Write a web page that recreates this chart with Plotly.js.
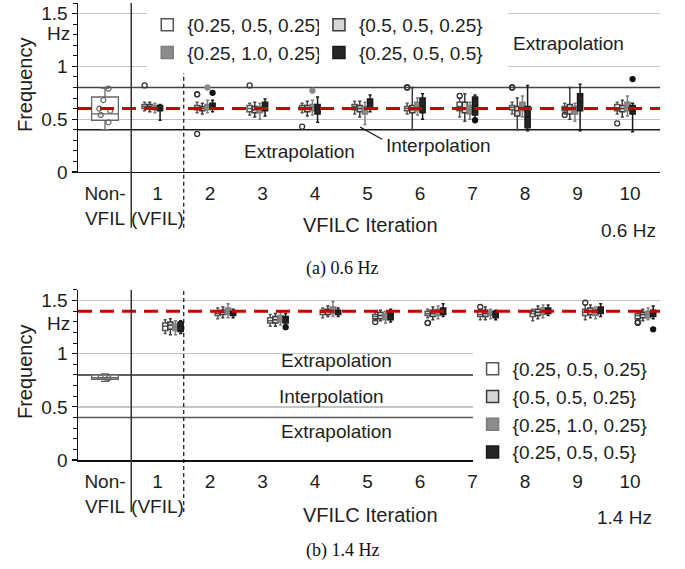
<!DOCTYPE html>
<html><head><meta charset="utf-8">
<script src="https://cdn.plot.ly/plotly-3.0.1.min.js"></script>
<style>body{margin:0;background:#fff}#chart{width:685px;height:569px}</style>
</head><body><div id="chart"></div>
<script>
// ---------- data ----------
const categories = ['Non-<br>VFIL','1<br>(VFIL)','2','3','4','5','6','7','8','9','10'];
const catPos = [0,1,2,3,4,5,6,7,8,9,10];
const iterations = [1,2,3,4,5,6,7,8,9,10];
const seriesNames = ['{0.25, 0.5, 0.25}','{0.5, 0.5, 0.25}','{0.25, 1.0, 0.25}','{0.25, 0.5, 0.5}'];
const targetTop = 0.6;
const targetBot = 1.4;
const interpBounds = [0.4, 0.8];

// Non-VFIL (lo, q1, med, q3, hi) and sample points
const nonTopStats = [0.40, 0.49, 0.55, 0.71, 0.795];
const nonTopPts = [0.79, 0.68, 0.60, 0.58, 0.54, 0.47];
const nonBotStats = [0.74, 0.76, 0.775, 0.80, 0.81];
const nonBotPts = [0.78, 0.77];

// (a) 0.6 Hz : rows = series, columns = iterations 1..10
const top_q1 = [
 [0.60,0.59,0.57,0.59,0.59,0.58,0.58,0.59,0.58,0.58],
 [0.60,0.58,0.56,0.57,0.57,0.56,0.56,0.53,0.55,0.57],
 [0.59,0.59,0.56,0.58,0.55,0.58,0.55,0.58,0.55,0.58],
 [0.58,0.60,0.58,0.55,0.61,0.56,0.54,0.42,0.58,0.55]];
const top_med = [
 [0.62,0.61,0.60,0.61,0.62,0.60,0.62,0.61,0.60,0.60],
 [0.62,0.60,0.59,0.60,0.60,0.59,0.60,0.58,0.59,0.60],
 [0.61,0.62,0.59,0.61,0.59,0.62,0.59,0.62,0.58,0.62],
 [0.60,0.63,0.62,0.60,0.65,0.62,0.63,0.52,0.66,0.58]];
const top_q3 = [
 [0.64,0.63,0.63,0.63,0.64,0.62,0.66,0.63,0.62,0.64],
 [0.64,0.62,0.62,0.63,0.63,0.63,0.66,0.62,0.64,0.63],
 [0.63,0.64,0.62,0.64,0.62,0.66,0.63,0.66,0.62,0.66],
 [0.63,0.65,0.66,0.64,0.69,0.70,0.71,0.62,0.74,0.63]];
const top_lo = [
 [0.58,0.56,0.54,0.56,0.55,0.55,0.52,0.55,0.55,0.55],
 [0.57,0.55,0.52,0.53,0.52,0.40,0.48,0.40,0.50,0.52],
 [0.56,0.56,0.50,0.54,0.45,0.54,0.50,0.52,0.48,0.53],
 [0.49,0.57,0.53,0.47,0.57,0.50,0.50,0.39,0.39,0.38]];
const top_hi = [
 [0.66,0.66,0.65,0.65,0.67,0.65,0.70,0.66,0.65,0.66],
 [0.66,0.65,0.66,0.67,0.67,0.80,0.74,0.70,0.80,0.68],
 [0.65,0.68,0.65,0.68,0.66,0.70,0.66,0.72,0.65,0.72],
 [0.64,0.68,0.69,0.71,0.73,0.74,0.73,0.82,0.83,0.65]];
const top_out = [
 [[0.82],[0.735,0.735,0.36],[0.82],[0.43],[],[0.80,0.80],[0.72],[0.80,0.80],[0.54],[0.46]],
 [[],[],[],[],[],[],[],[],[],[]],
 [[],[0.80],[],[0.77],[],[],[],[],[],[]],
 [[],[0.75],[],[],[],[],[0.49],[],[],[0.88]]];

// (b) 1.4 Hz
const bot_q1 = [
 [1.22,1.36,1.29,1.37,1.33,1.36,1.35,1.35,1.36,1.33],
 [1.23,1.37,1.29,1.37,1.33,1.35,1.35,1.36,1.37,1.34],
 [1.22,1.37,1.30,1.38,1.32,1.36,1.36,1.37,1.36,1.34],
 [1.21,1.36,1.29,1.37,1.32,1.37,1.34,1.38,1.38,1.35]];
const bot_med = [
 [1.26,1.38,1.31,1.39,1.35,1.38,1.37,1.38,1.39,1.36],
 [1.27,1.39,1.32,1.40,1.36,1.38,1.38,1.39,1.40,1.37],
 [1.25,1.40,1.33,1.41,1.35,1.39,1.38,1.40,1.39,1.37],
 [1.26,1.38,1.32,1.39,1.36,1.40,1.37,1.40,1.41,1.38]];
const bot_q3 = [
 [1.29,1.40,1.34,1.41,1.37,1.40,1.40,1.40,1.42,1.38],
 [1.30,1.41,1.35,1.42,1.39,1.41,1.41,1.42,1.43,1.39],
 [1.28,1.43,1.36,1.44,1.38,1.42,1.40,1.43,1.42,1.40],
 [1.30,1.40,1.35,1.41,1.40,1.43,1.40,1.43,1.44,1.41]];
const bot_lo = [
 [1.19,1.33,1.26,1.34,1.31,1.34,1.32,1.31,1.32,1.32],
 [1.18,1.34,1.26,1.35,1.31,1.32,1.32,1.33,1.34,1.31],
 [1.18,1.34,1.27,1.35,1.29,1.33,1.33,1.34,1.33,1.32],
 [1.19,1.34,1.27,1.35,1.30,1.35,1.32,1.36,1.35,1.33]];
const bot_hi = [
 [1.32,1.43,1.37,1.43,1.39,1.42,1.42,1.42,1.46,1.40],
 [1.33,1.44,1.38,1.45,1.41,1.44,1.44,1.45,1.46,1.42],
 [1.31,1.47,1.39,1.49,1.40,1.45,1.42,1.46,1.44,1.43],
 [1.31,1.42,1.38,1.43,1.42,1.47,1.41,1.46,1.47,1.45]];
const bot_out = [
 [[],[],[],[],[1.30],[1.29,1.29],[1.44],[],[1.48],[1.30,1.29]],
 [[],[],[],[],[],[],[],[],[],[]],
 [[],[],[],[],[],[],[],[],[],[]],
 [[],[],[1.25],[],[],[],[],[],[],[1.23]]];

// ---------- styles ----------
const fills = ['#ffffff','#d6d6d6','#8c8c8c','#262626'];
const lines = ['#555555','#3a3a3a','#7d7d7d','#1a1a1a'];
const mSym = ['circle-open','circle-open','circle','circle'];
const mCol = ['#333333','#555555','#8a8a8a','#111111'];
const FONT = 'Liberation Sans, Arial, sans-serif';
const TXT = '#1e1e1e';

function seriesBox(s, q1, med, q3, lo, hi, out, xa, ya, leg, showleg) {
  // sample points: whisker end (a data point) + outliers
  const samples = out[s].map((o, i) => [hi[s][i]].concat(o));
  return {
    type: 'box', name: seriesNames[s], x: iterations,
    q1: q1[s], median: med[s], q3: q3[s], lowerfence: lo[s], upperfence: hi[s],
    y: samples, boxpoints: 'outliers', jitter: 0, pointpos: 0,
    fillcolor: fills[s], line: {color: lines[s], width: 1.5}, whiskerwidth: 0.6,
    marker: {symbol: mSym[s], color: mCol[s], size: 5, line: {width: 1.3, color: mCol[s]}},
    xaxis: xa, yaxis: ya, legend: leg, showlegend: showleg, hoverinfo: 'skip'
  };
}
function nonBox(stats, pts, xa, ya) {
  return {
    type: 'box', x: [0], lowerfence: [stats[0]], q1: [stats[1]], median: [stats[2]],
    q3: [stats[3]], upperfence: [stats[4]], y: [pts], width: 0.51,
    boxpoints: 'all', jitter: 0.5, pointpos: 0,
    fillcolor: '#ffffff', line: {color: '#666666', width: 1.3}, whiskerwidth: 0.3,
    marker: {symbol: 'circle-open', color: '#666666', size: 5, line: {width: 1.2}},
    xaxis: xa, yaxis: ya, showlegend: false, hoverinfo: 'skip'
  };
}

const topLegend = ['legend', 'legend2', 'legend', 'legend2'];
const data = [];
data.push(nonBox(nonTopStats, nonTopPts, 'x3', 'y'));
data.push(nonBox(nonBotStats, nonBotPts, 'x4', 'y2'));
for (let s = 0; s < 4; s++) data.push(seriesBox(s, top_q1, top_med, top_q3, top_lo, top_hi, top_out, 'x', 'y', topLegend[s], true));
for (let s = 0; s < 4; s++) data.push(seriesBox(s, bot_q1, bot_med, bot_q3, bot_lo, bot_hi, bot_out, 'x2', 'y2', 'legend3', true));

const xr = [-0.514, 10.571];
const xbase = {
  range: xr, type: 'linear', tickmode: 'array', tickvals: catPos, ticktext: categories,
  showgrid: false, zeroline: false, showline: true, linecolor: '#111', linewidth: 1.5,
  ticks: '', tickfont: {family: FONT, size: 19, color: TXT}, ticklabelstandoff: 4
};
const ybase = {
  range: [0, 1.6], dtick: 0.5, tick0: 0, showgrid: true, gridcolor: '#c4c4c4', gridwidth: 1.3,
  zeroline: false, showline: true, linecolor: '#111', linewidth: 1.5,
  ticks: 'outside', ticklen: 5, tickcolor: '#111', tickwidth: 1.2,
  minor: {dtick: 0.1, ticks: 'outside', ticklen: 4, tickcolor: '#111', tickwidth: 1, showgrid: false},
  tickfont: {family: FONT, size: 19, color: TXT}
};
const legBase = {bgcolor: '#ffffff', borderwidth: 0, font: {family: FONT, size: 19, color: TXT},
  orientation: 'v', xanchor: 'left', yanchor: 'top', traceorder: 'normal', tracegroupgap: 0, itemclick: false};

function hline(xref, yref, y, color, width, dash, layer) {
  return {type: 'line', xref: xref, yref: yref, x0: 0, x1: 1, y0: y, y1: y,
    line: {color: color, width: width, dash: dash || 'solid'}, layer: layer};
}
function vline(xref, yref, x, y0, y1, color, width, dash) {
  return {type: 'line', xref: xref, yref: yref, x0: x, x1: x, y0: y0, y1: y1,
    line: {color: color, width: width, dash: dash || 'solid'}, layer: 'above'};
}
function whiteBox(x0, x1, y0, y1) {
  return {type: 'rect', xref: 'paper', yref: 'paper', x0: x0, x1: x1, y0: y0, y1: y1,
    fillcolor: '#ffffff', line: {width: 0}, layer: 'above'};
}

const shapes = [
  hline('x domain', 'y', interpBounds[1], '#444', 1.5, null, 'below'),
  hline('x domain', 'y', interpBounds[0], '#1a1a1a', 1.5, null, 'below'),
  hline('x2 domain', 'y2', interpBounds[1], '#2a2a2a', 1.5, null, 'below'),
  hline('x2 domain', 'y2', interpBounds[0], '#555', 1.5, null, 'below'),
  // legend backdrops (area behind the legends)
  whiteBox(0.146, 0.739, 0.855, 0.997),
  whiteBox(0.699, 1.0, -0.022, 0.2516),
  hline('x domain', 'y', targetTop, '#cc0000', 3, '14px,8px', 'above'),
  hline('x2 domain', 'y2', targetBot, '#cc0000', 3, '14px,8px', 'above'),
  vline('x', 'y domain', 0.5, -0.33, 1, '#333', 1.5),
  vline('x', 'y domain', 1.5, -0.33, 0.586, '#111', 1.2, '4px,3px'),
  vline('x2', 'y2 domain', 0.5, -0.306, 1, '#333', 1.5),
  vline('x2', 'y2 domain', 1.5, -0.306, 1, '#111', 1.2, '4px,3px'),
  {type: 'line', xref: 'x', yref: 'y', x0: 4.86, y0: 0.425, x1: 5.28, y1: 0.31,
   line: {color: '#222', width: 1.2}, layer: 'above'}
];

function txt(text, xref, yref, x, y, size, extra) {
  return Object.assign({text: text, xref: xref, yref: yref, x: x, y: y, showarrow: false,
    xanchor: 'center', yanchor: 'middle',
    font: {family: FONT, size: size, color: TXT}}, extra || {});
}
const SERIF = 'Liberation Serif, Times New Roman, serif';
const annotations = [
  txt('Extrapolation', 'x', 'y', 8.82, 1.22, 19),
  txt('Extrapolation', 'x', 'y', 3.71, 0.19, 19),
  txt('Interpolation', 'x', 'y', 6.36, 0.255, 19),
  txt('Extrapolation', 'x2', 'y2', 4.40, 0.934, 19),
  txt('Interpolation', 'x2', 'y2', 4.32, 0.597, 19),
  txt('Extrapolation', 'x2', 'y2', 4.40, 0.267, 19),
  txt('Hz', 'paper', 'paper', -0.0103, 0.933, 19, {xanchor: 'right'}),
  txt('Hz', 'paper', 'paper', -0.0103, 0.2987, 19, {xanchor: 'right'}),
  txt('Frequency', 'paper', 'paper', -0.091, 0.8206, 20, {textangle: -90}),
  txt('Frequency', 'paper', 'paper', -0.091, 0.1926, 20, {textangle: -90}),
  txt('VFILC Iteration', 'paper', 'paper', 0.502, 0.514, 20),
  txt('VFILC Iteration', 'paper', 'paper', 0.502, -0.120, 20),
  txt('0.6 Hz', 'paper', 'paper', 0.946, 0.503, 19),
  txt('1.4 Hz', 'paper', 'paper', 0.939, -0.125, 19),
  txt('(a) 0.6 Hz', 'paper', 'paper', 0.454, 0.420, 18, {font: {family: SERIF, size: 18, color: '#111'}}),
  txt('(b) 1.4 Hz', 'paper', 'paper', 0.454, -0.197, 18, {font: {family: SERIF, size: 18, color: '#111'}})
];

const layout = {
  width: 685, height: 569,
  margin: {l: 78, r: 25, t: 3, b: 109},
  paper_bgcolor: '#ffffff', plot_bgcolor: 'rgba(0,0,0,0)',
  boxmode: 'group', boxgap: 0.02, boxgroupgap: 0,
  font: {family: FONT, color: TXT},
  xaxis: Object.assign({}, xbase, {domain: [0, 1], anchor: 'y'}),
  yaxis: Object.assign({}, ybase, {domain: [0.6302, 1], anchor: 'x'}),
  xaxis2: Object.assign({}, xbase, {domain: [0, 1], anchor: 'y2'}),
  yaxis2: Object.assign({}, ybase, {domain: [0, 0.372], anchor: 'x2'}),
  xaxis3: {overlaying: 'x', anchor: 'y', range: xr, visible: false, type: 'linear'},
  xaxis4: {overlaying: 'x2', anchor: 'y2', range: xr, visible: false, type: 'linear'},
  legend: Object.assign({}, legBase, {x: 0.119, y: 0.9934}),
  legend2: Object.assign({}, legBase, {x: 0.414, y: 0.9934}),
  legend3: Object.assign({}, legBase, {x: 0.678, y: 0.2407}),
  shapes: shapes,
  annotations: annotations,
  showlegend: true
};

Plotly.newPlot('chart', data, layout, {displayModeBar: false, staticPlot: true});
</script>
</body></html>
